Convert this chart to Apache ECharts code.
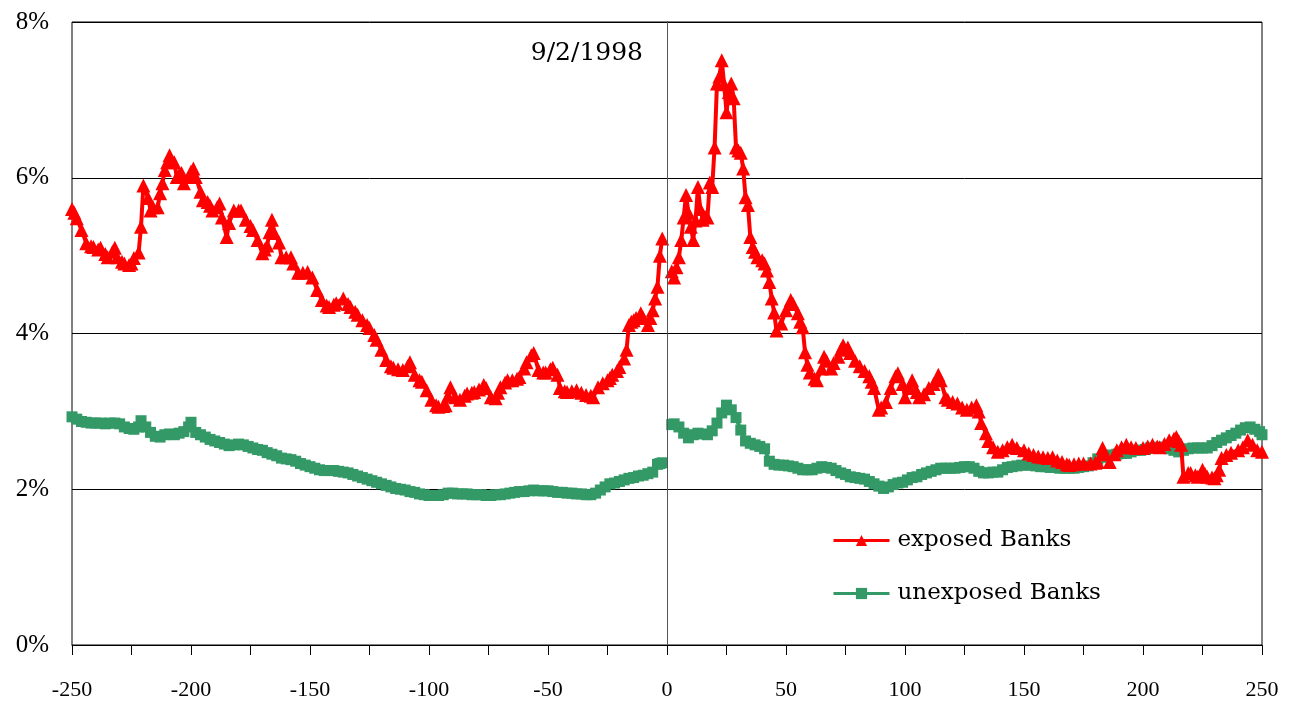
<!DOCTYPE html>
<html>
<head>
<meta charset="utf-8">
<script src="https://cdn.jsdelivr.net/npm/echarts@6/dist/echarts.min.js"></script>
<style>html,body{margin:0;padding:0;background:#fff;}#c{width:1293px;height:708px;}</style>
</head>
<body>
<div id="c"></div>
<script>
// Event-time axis (days relative to 9/2/1998); null = gap at the event day
const exposedDays = [-250,-249,-248,-246,-244,-242,-241,-239,-238,-236,-235,-233,-232,-231,-229,-228,-226,-225,-224,-222,-221,-220,-218,-217,-216,-214,-213,-212,-211,-210,-209,-207,-206,-205,-204,-203,-201,-200,-199,-198,-196,-195,-193,-192,-191,-189,-188,-187,-185,-184,-182,-180,-179,-177,-175,-174,-172,-170,-169,-168,-167,-166,-165,-163,-162,-160,-158,-157,-155,-153,-151,-149,-147,-145,-143,-142,-140,-139,-136,-134,-133,-131,-130,-128,-126,-125,-123,-122,-120,-118,-116,-115,-113,-111,-109,-108,-106,-104,-103,-101,-99,-97,-96,-94,-93,-92,-91,-89,-87,-85,-84,-82,-81,-79,-77,-76,-74,-72,-71,-70,-68,-67,-65,-63,-62,-60,-59,-57,-56,-54,-52,-51,-49,-48,-46,-45,-43,-42,-40,-38,-36,-34,-32,-31,-29,-27,-25,-24,-23,-21,-20,-18,-17,-16,-15,-14,-13,-11,-10,-8,-7,-6,-5,-4,-3,-2,
0,
2,3,4,5,6,7,8,9,10,11,12,13,14,15,16,17,18,19,20,21,22,23,24,25,26,27,28,29,30,31,32,33,34,35,36,37,38,40,41,42,43,44,45,46,48,50,52,53,55,56,57,58,59,60,62,63,65,66,67,69,70,72,73,74,76,77,79,81,83,85,86,87,89,90,92,94,96,97,99,100,102,103,105,106,108,110,112,114,115,117,118,120,122,124,126,128,130,131,132,134,135,137,139,141,143,145,147,150,152,154,156,158,160,162,164,166,168,169,171,173,175,178,180,181,183,184,186,188,189,191,193,195,197,200,202,204,206,207,209,211,213,214,215,216,217,219,220,222,223,225,226,227,229,230,231,232,233,235,237,240,242,244,246,248,250];
const exposedValues = [5.60,5.55,5.48,5.33,5.16,5.12,5.11,5.08,5.10,5.02,4.98,5.05,5.10,4.98,4.92,4.90,4.88,4.90,4.97,5.04,5.37,5.90,5.74,5.58,5.62,5.62,5.80,5.93,6.10,6.20,6.29,6.20,6.01,6.04,6.06,5.93,6.01,6.08,6.12,6.01,5.82,5.71,5.69,5.64,5.58,5.62,5.67,5.49,5.24,5.42,5.58,5.58,5.58,5.46,5.38,5.33,5.20,5.03,5.08,5.13,5.30,5.46,5.29,5.17,4.98,4.98,4.98,4.90,4.78,4.78,4.79,4.72,4.56,4.43,4.36,4.34,4.37,4.39,4.45,4.38,4.34,4.28,4.24,4.17,4.11,4.07,3.98,3.92,3.79,3.66,3.58,3.56,3.54,3.53,3.58,3.63,3.47,3.40,3.38,3.27,3.15,3.08,3.06,3.07,3.08,3.20,3.31,3.18,3.15,3.20,3.23,3.24,3.25,3.28,3.34,3.30,3.18,3.17,3.24,3.31,3.37,3.40,3.40,3.42,3.44,3.55,3.63,3.72,3.75,3.53,3.50,3.50,3.54,3.56,3.47,3.30,3.26,3.25,3.26,3.27,3.24,3.21,3.20,3.18,3.31,3.36,3.40,3.43,3.47,3.52,3.57,3.68,3.79,4.11,4.15,4.17,4.20,4.26,4.20,4.11,4.20,4.30,4.45,4.60,5.00,5.22,
null,
4.80,4.72,4.85,4.98,5.20,5.49,5.78,5.55,5.37,5.20,5.45,5.88,5.60,5.46,5.50,5.49,5.94,5.88,6.39,7.21,7.30,7.51,7.20,6.84,7.10,7.21,7.02,6.39,6.35,6.32,6.12,5.75,5.65,5.24,5.11,5.05,4.98,4.94,4.90,4.81,4.66,4.45,4.27,4.04,4.13,4.30,4.43,4.38,4.26,4.15,4.08,3.76,3.60,3.50,3.42,3.40,3.55,3.70,3.65,3.55,3.62,3.70,3.79,3.85,3.82,3.75,3.65,3.58,3.52,3.45,3.38,3.30,3.02,3.05,3.12,3.30,3.45,3.49,3.35,3.18,3.30,3.40,3.25,3.18,3.22,3.30,3.35,3.47,3.40,3.18,3.15,3.12,3.10,3.05,3.02,3.05,3.08,3.00,2.85,2.72,2.62,2.54,2.48,2.50,2.54,2.57,2.53,2.50,2.46,2.44,2.42,2.41,2.40,2.41,2.37,2.35,2.32,2.31,2.32,2.33,2.33,2.33,2.34,2.35,2.53,2.45,2.35,2.45,2.50,2.54,2.57,2.54,2.53,2.53,2.55,2.57,2.55,2.54,2.58,2.63,2.65,2.67,2.62,2.57,2.16,2.21,2.21,2.18,2.16,2.25,2.20,2.16,2.15,2.14,2.18,2.25,2.40,2.44,2.47,2.50,2.54,2.63,2.57,2.50,2.48];

const unexposedDays = [-250,-248,-246,-244,-242,-240,-238,-236,-234,-232,-230,-228,-226,-224,-222,-221,-219,-217,-215,-213,-211,-209,-207,-205,-203,-201,-200,-198,-196,-194,-192,-190,-188,-186,-184,-182,-180,-178,-176,-174,-172,-170,-168,-166,-164,-162,-160,-158,-156,-154,-152,-150,-148,-146,-144,-142,-140,-138,-136,-134,-132,-130,-128,-126,-124,-122,-120,-118,-116,-114,-112,-110,-108,-106,-104,-102,-100,-98,-96,-94,-92,-90,-88,-86,-84,-82,-80,-78,-76,-74,-72,-70,-68,-66,-64,-62,-60,-58,-56,-54,-52,-50,-48,-46,-44,-42,-40,-38,-36,-34,-32,-30,-28,-26,-24,-22,-20,-18,-16,-14,-12,-10,-8,-6,-4,-3,-2,
0,
2,3,5,7,9,11,13,15,17,19,21,23,25,27,29,31,33,35,37,39,41,43,45,47,49,51,53,55,57,59,61,63,65,67,69,71,73,75,77,79,81,83,85,87,89,91,93,95,97,99,101,103,105,107,109,111,113,115,117,119,121,123,125,127,129,131,133,135,137,139,141,143,145,147,149,151,153,155,157,159,161,163,165,167,169,171,173,175,177,179,181,183,185,187,189,191,193,195,197,199,201,203,205,207,209,211,213,215,217,219,221,223,225,227,229,231,233,235,237,239,241,243,245,247,249,250];
const unexposedValues = [2.93,2.90,2.87,2.86,2.85,2.85,2.85,2.84,2.85,2.85,2.84,2.80,2.78,2.77,2.80,2.88,2.80,2.73,2.68,2.67,2.70,2.71,2.70,2.72,2.74,2.80,2.86,2.73,2.70,2.67,2.64,2.62,2.60,2.58,2.56,2.57,2.58,2.57,2.55,2.53,2.51,2.50,2.47,2.45,2.43,2.40,2.39,2.38,2.36,2.33,2.31,2.29,2.27,2.25,2.24,2.24,2.24,2.23,2.22,2.21,2.19,2.17,2.15,2.13,2.11,2.09,2.07,2.05,2.03,2.01,2.00,1.99,1.97,1.96,1.94,1.93,1.92,1.92,1.92,1.93,1.95,1.95,1.94,1.94,1.94,1.93,1.93,1.93,1.92,1.92,1.93,1.93,1.94,1.95,1.96,1.97,1.97,1.98,1.99,1.98,1.98,1.98,1.97,1.96,1.96,1.95,1.95,1.94,1.94,1.93,1.93,1.95,1.99,2.03,2.07,2.08,2.10,2.12,2.14,2.15,2.17,2.18,2.20,2.22,2.32,2.33,2.34,
null,
2.83,2.84,2.80,2.72,2.66,2.70,2.72,2.71,2.70,2.75,2.85,2.98,3.08,3.02,2.92,2.76,2.62,2.59,2.57,2.55,2.52,2.36,2.32,2.31,2.31,2.30,2.29,2.27,2.25,2.25,2.25,2.27,2.29,2.28,2.27,2.24,2.21,2.19,2.16,2.15,2.14,2.13,2.10,2.07,2.04,2.01,2.03,2.06,2.08,2.09,2.12,2.15,2.16,2.19,2.21,2.23,2.25,2.27,2.27,2.27,2.27,2.28,2.29,2.29,2.27,2.23,2.21,2.21,2.22,2.22,2.25,2.28,2.29,2.30,2.31,2.31,2.31,2.30,2.29,2.29,2.28,2.28,2.27,2.27,2.27,2.27,2.28,2.29,2.30,2.34,2.39,2.41,2.43,2.44,2.45,2.46,2.46,2.48,2.50,2.50,2.51,2.53,2.53,2.54,2.54,2.52,2.50,2.48,2.50,2.52,2.53,2.53,2.53,2.53,2.56,2.60,2.63,2.66,2.69,2.72,2.76,2.79,2.80,2.77,2.74,2.70];

const seriesNames = ['exposed Banks', 'unexposed Banks'];
const eventLabel = '9/2/1998';

function pairs(days, vals) {
  return days.map((d, i) => [d, vals[i] == null ? '-' : vals[i]]);
}

const chart = echarts.init(document.getElementById('c'));
const axisFont = 'Liberation Serif';
const textFont = 'DejaVu Serif';

chart.setOption({
  animation: false,
  backgroundColor: '#fff',
  grid: { left: 72, right: 31, top: 22, bottom: 63, show: true, borderColor: '#000', borderWidth: 1, backgroundColor: 'transparent' },
  xAxis: {
    type: 'value', min: -250, max: 250, interval: 25,
    axisLine: { show: true, onZero: false, lineStyle: { color: '#000', width: 1 } },
    axisTick: { show: true, length: 10, lineStyle: { color: '#000' } },
    splitLine: { show: false },
    axisLabel: {
      margin: 34, color: '#000', fontFamily: axisFont, fontSize: 22,
      showMinLabel: true, showMaxLabel: true,
      formatter: v => (v % 50 === 0 ? String(v) : '')
    }
  },
  yAxis: {
    type: 'value', min: 0, max: 8, interval: 2,
    axisLine: { show: true, lineStyle: { color: '#000', width: 1 } },
    axisTick: { show: false },
    splitLine: { show: true, lineStyle: { color: '#000', width: 1 } },
    axisLabel: { margin: 23, color: '#000', fontFamily: axisFont, fontSize: 25, formatter: '{value}%' }
  },
  legend: {
    orient: 'vertical', left: 832, top: 529, padding: 0, itemWidth: 56, itemHeight: 14, itemGap: 30,
    lineStyle: { width: 3 },
    textStyle: { fontFamily: textFont, fontSize: 23, color: '#000', padding: [0, 0, 0, 3] },
    data: seriesNames
  },
  graphic: [{
    type: 'text', x: 643, y: 53,
    style: { text: eventLabel, fontFamily: textFont, fontSize: 25, fill: '#000', textAlign: 'right', textVerticalAlign: 'middle' }
  }],
  series: [
    {
      name: seriesNames[1], type: 'line', data: pairs(unexposedDays, unexposedValues),
      symbol: 'rect', symbolSize: 11, showAllSymbol: true, connectNulls: false,
      lineStyle: { color: '#339966', width: 4 }, itemStyle: { color: '#339966' },
      z: 2
    },
    {
      name: seriesNames[0], type: 'line', data: pairs(exposedDays, exposedValues),
      symbol: 'triangle', symbolSize: 14, showAllSymbol: true, connectNulls: false,
      lineStyle: { color: '#ff0000', width: 4 }, itemStyle: { color: '#ff0000' },
      z: 3,
      markLine: {
        silent: true, symbol: 'none', label: { show: false },
        lineStyle: { color: '#555', width: 1, type: 'solid' },
        data: [{ xAxis: 0 }]
      }
    }
  ]
});
</script>
</body>
</html>
